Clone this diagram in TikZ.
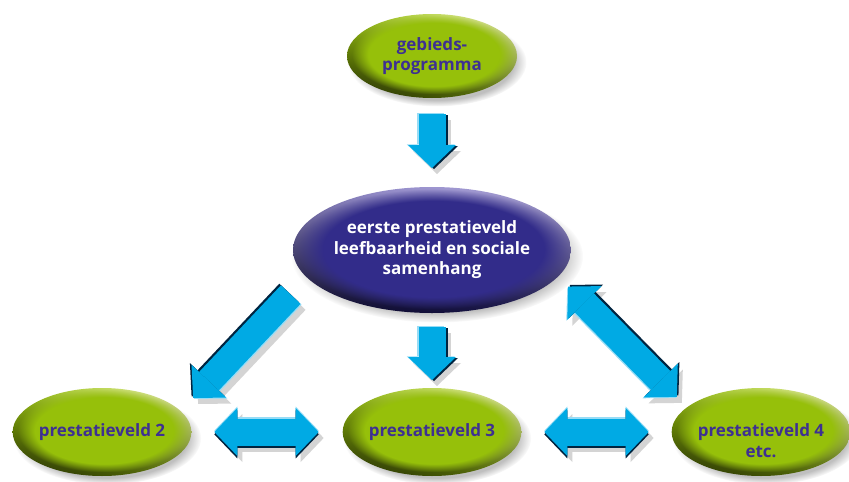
\documentclass[tikz,border=0pt]{standalone}
\usepackage{fontspec}
\setmainfont{Open Sans}
\usetikzlibrary{arrows.meta, shapes, shadows, fadings, shadings}

\definecolor{leafgreen}{RGB}{150,192,10}
\definecolor{leaflight}{RGB}{232,240,170}
\definecolor{leafdark}{RGB}{32,42,0}
\definecolor{inkblue}{RGB}{62,48,146}
\definecolor{coreblue}{RGB}{50,44,138}
\definecolor{corelight}{RGB}{176,168,220}
\definecolor{coredark}{RGB}{8,6,36}
\definecolor{flowblue}{RGB}{0,170,228}
\definecolor{flowdark}{RGB}{0,36,64}
\definecolor{flowlight}{RGB}{150,220,246}

\tikzset{
  blob/.style={ellipse, inner sep=0pt, outer sep=0pt, align=center,
    font=\bfseries\fontsize{17}{20.5}\selectfont,
    circular drop shadow={shadow xshift=5pt, shadow yshift=-6pt, shadow scale=1.05, opacity=.5}},
  field/.style={blob, minimum width=176pt, minimum height=88pt, text=inkblue,
    path picture={
      \shade[lower left=leafdark, upper right=leaflight, upper left=leafgreen, lower right=leafgreen!50!leafdark]
        (path picture bounding box.south west) rectangle (path picture bounding box.north east);
      \fill[leafgreen, path fading=circle with fuzzy edge 20 percent]
        ([shift={(5pt,4pt)}]path picture bounding box.south west) rectangle ([shift={(-1pt,-1pt)}]path picture bounding box.north east);
    }},
  core/.style={blob, minimum width=268pt, minimum height=126pt, text=white,
    path picture={
      \shade[lower left=coredark, upper right=corelight, upper left=corelight!70!coreblue, lower right=coredark!60!coreblue]
        (path picture bounding box.south west) rectangle (path picture bounding box.north east);
      \fill[coreblue, path fading=circle with fuzzy edge 20 percent]
        ([shift={(3pt,4pt)}]path picture bounding box.south west) rectangle ([shift={(0pt,-2pt)}]path picture bounding box.north east);
    }},
  flowtip/.style={>={Triangle[length=23pt, width=48pt, line width=0pt]}},
}

% the six block arrows, drawn once per layer; darkside gives the shaded edge
\newcommand\flowpaths{%
    \path [->] (prog) edge[darkside={2pt}{-1pt}, shorten <=16pt, shorten >=19pt] (core);
    \path [->] (core) edge[darkside={2pt}{-1pt}, shorten <=14pt, shorten >=8pt] (pv3);
    \path [->] ([xshift=-43pt]core.south west) edge[darkside={-1.6pt}{1.6pt}] ([xshift=28pt, yshift=3pt]pv2.north east);
    \path [<->] ([xshift=38pt, yshift=8pt]core.south east) edge[darkside={1.6pt}{1.6pt}] ([xshift=-21pt, yshift=4pt]pv4.north west);
    \path [<->] (pv2) edge[darkside={0pt}{-2.4pt}, shorten <=23pt, shorten >=24pt] (pv3);
    \path [<->] (pv3) edge[darkside={0pt}{-2.4pt}, shorten <=23pt, shorten >=23pt] (pv4);
}

\begin{document}
\begin{tikzpicture}[x=1pt, y=-1pt]
\fill[white] (0,0) rectangle (849,482);
\useasboundingbox (0,0) rectangle (849,482);

\node[field, minimum width=170pt, minimum height=84pt] (prog) at (432,56) {gebieds-\\programma};
\node[core] (core) at (432,250) {eerste prestatieveld\\leefbaarheid en sociale\\samenhang};
\node[field] (pv2) at (102,432) {prestatieveld 2};
\node[field] (pv3) at (432,432) {prestatieveld 3};
\node[field] (pv4) at (761,432) {\vphantom{p}\\prestatieveld 4\\etc.};

% shadow, highlight, dark edge, face
\begin{scope}[flowtip, transform canvas={shift={(5pt,-6pt)}},
              darkside/.style 2 args={},
              every edge/.style={draw=black!17, line width=27pt}]
    \flowpaths
\end{scope}
\begin{scope}[flowtip, darkside/.style 2 args={transform canvas={shift={({-0.6*#1},{-0.6*#2})}}},
              every edge/.style={draw=flowlight, line width=27pt}]
    \flowpaths
\end{scope}
\begin{scope}[flowtip, darkside/.style 2 args={transform canvas={shift={(#1,#2)}}},
              every edge/.style={draw=flowdark, line width=27pt}]
    \flowpaths
\end{scope}
\begin{scope}[flowtip, darkside/.style 2 args={},
              every edge/.style={draw=flowblue, line width=27pt}]
    \flowpaths
\end{scope}
\end{tikzpicture}
\end{document}
